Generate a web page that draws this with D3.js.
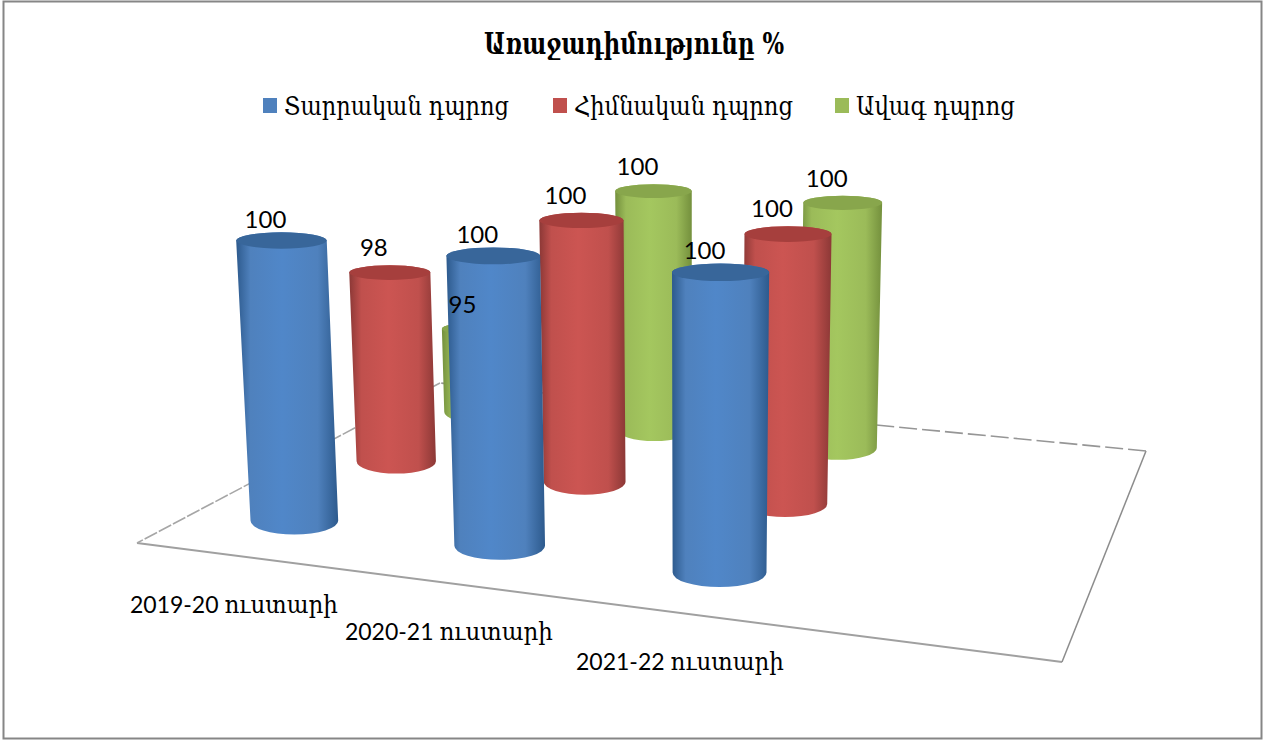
<!DOCTYPE html>
<html><head><meta charset="utf-8">
<script src="https://cdn.jsdelivr.net/npm/d3@7"></script>
<style>html,body{margin:0;padding:0;background:#fff}svg{display:block}</style>
</head><body><svg id="c" width="1264" height="740"></svg>
<script>
const chartTitle = "Առաջադիմությունը %";
const categories = ["2019-20 ուստարի", "2020-21 ուստարի", "2021-22 ուստարի", ""];
const seriesNames = ["Տարրական դպրոց", "Հիմնական դպրոց", "Ավագ դպրոց"];
const tarrakan = [100, 100, 100];
const himnakan = [98, 100, 100];
const avag = [95, 100, 100];
const seriesValues = [tarrakan, himnakan, avag];
const seriesColors = ["#4f81bd", "#c0504d", "#9bbb59"];
const edgeColors = ["#2d5a8d", "#8c3836", "#74903d"];
const midColors = ["#5087c9", "#cc5552", "#a4c75f"];
const capColors = ["#38669a", "#a63f3d", "#88a64c"];

const W = 1264, H = 740;
const svg = d3.select("#c");
const serif = "'DejaVu Serif', serif";
const mix = "Lato, 'DejaVu Serif', sans-serif";

// floor plane projective mapping (unit square -> picture)
const A = [137, 543], B = [1062, 662], C = [1146, 451], D = [440, 383];
function makeHomography(A, B, C, D) {
  const dx1 = B[0] - C[0], dy1 = B[1] - C[1], dx2 = D[0] - C[0], dy2 = D[1] - C[1];
  const sx = A[0] - B[0] + C[0] - D[0], sy = A[1] - B[1] + C[1] - D[1];
  const det = dx1 * dy2 - dx2 * dy1;
  const g = (sx * dy2 - dx2 * sy) / det, h = (dx1 * sy - sx * dy1) / det;
  const a = B[0] - A[0] + g * B[0], b = D[0] - A[0] + h * D[0];
  const d = B[1] - A[1] + g * B[1], e = D[1] - A[1] + h * D[1];
  return (u, v) => {
    const w = g * u + h * v + 1;
    return {x: (a * u + b * v + A[0]) / w, y: (d * u + e * v + A[1]) / w, w};
  };
}
const floor = makeHomography(A, B, C, D);
const uScale = d3.scaleBand().domain(categories).range([-0.005, 1.0]);
const vScale = d3.scaleBand().domain(seriesNames).range([0, 1]);
const heightScale = d3.scaleLinear().domain([92.2, 100]).range([0, 291]);
const RADIUS = 45.5, VERT_CONV = 8600, VERT_CX = 690;

// gradients
const defs = svg.append("defs");
seriesNames.forEach((s, i) => {
  const g = defs.append("linearGradient").attr("id", "side" + i)
    .attr("x1", 0).attr("x2", 1).attr("y1", 0).attr("y2", 0);
  [[0, edgeColors[i]], [.14, seriesColors[i]], [.45, midColors[i]], [.8, seriesColors[i]], [1, edgeColors[i]]]
    .forEach(([o, c]) => g.append("stop").attr("offset", o).attr("stop-color", c));
});

// frame
svg.append("rect").attr("x", 3.5).attr("y", 1.5).attr("width", W - 6).attr("height", H - 3)
  .attr("fill", "#fff").attr("stroke", "#868686").attr("stroke-width", 2);

// floor
const P = (u, v) => { const p = floor(u, v); return [p.x, p.y]; };
const floorLine = d3.line();
[[[0, 0], [1, 0], "none", "#a0a0a0", 2], [[1, 0], [1, 1], "none", "#8c8c8c", 1.5],
 [[1, 1], [0, 1], "18 5", "#969696", 1.6], [[0, 1], [0, 0], "14 2", "#a6a6a6", 1.6]]
  .forEach(([a, b, dash, col, sw]) => {
    svg.append("path").attr("d", floorLine([P(...a), P(...b)])).attr("fill", "none")
      .attr("stroke", col).attr("stroke-width", sw).attr("stroke-dasharray", dash);
  });

// cylinders
const marks = [];
seriesNames.forEach((s, si) => seriesValues[si].forEach((val, ci) => {
  const u = uScale(categories[ci]) + uScale.bandwidth() / 2;
  const v = vScale(s) + vScale.bandwidth() / 2;
  const b = floor(u, v);
  const rx = RADIUS / b.w;
  const h = heightScale(val) / b.w;
  const k = h / VERT_CONV;
  const top = {x: b.x + (b.x - VERT_CX) * k, y: b.y - h, rx: rx * (1 + k)};
  marks.push({si, ci, val, b, rx, ry: rx * .31, top, topRy: top.rx * .18});
}));
marks.sort((m, n) => d3.descending(m.si, n.si) || d3.ascending(m.ci, n.ci));

const bars = svg.append("g").selectAll("g").data(marks).join("g");
bars.append("path")
  .attr("fill", d => `url(#side${d.si})`)
  .attr("d", d => `M${d.top.x - d.top.rx},${d.top.y}L${d.b.x - d.rx},${d.b.y}`
    + `A${d.rx},${d.ry} 0 0 0 ${d.b.x + d.rx},${d.b.y}`
    + `L${d.top.x + d.top.rx},${d.top.y}`
    + `A${d.top.rx},${d.topRy} 0 0 0 ${d.top.x - d.top.rx},${d.top.y}Z`);
bars.append("ellipse")
  .attr("cx", d => d.top.x).attr("cy", d => d.top.y)
  .attr("rx", d => d.top.rx).attr("ry", d => d.topRy)
  .attr("fill", d => capColors[d.si]);

// value labels
svg.append("g").selectAll("text").data(marks).join("text")
  .attr("x", d => d.top.x - 16).attr("y", d => d.top.y - d.topRy - (d.si === 0 ? 4.5 : 9))
  .attr("text-anchor", "middle").attr("font-family", mix).attr("font-size", 24).attr("fill", "#000")
  .text(d => d.val);

// category labels
svg.append("g").selectAll("text").data(categories.filter(c => c)).join("text")
  .attr("x", c => floor(uScale(c) + uScale.bandwidth() / 2, 0).x - 1)
  .attr("y", c => floor(uScale(c) + uScale.bandwidth() / 2, 0).y + 57)
  .attr("text-anchor", "middle").attr("font-family", mix).attr("font-size", 24).attr("fill", "#000")
  .attr("textLength", 208).attr("lengthAdjust", "spacingAndGlyphs")
  .text(c => c);

// title
svg.append("text").attr("x", 634).attr("y", 54).attr("text-anchor", "middle")
  .attr("font-family", serif).attr("font-weight", "bold").attr("font-size", 29)
  .attr("textLength", 300).attr("lengthAdjust", "spacingAndGlyphs").text(chartTitle);

// legend
const legendX = d3.scaleOrdinal().domain(seriesNames).range([263, 553, 835]);
const legendW = d3.scaleOrdinal().domain(seriesNames).range([225, 219, 159]);
const leg = svg.append("g").selectAll("g").data(seriesNames).join("g")
  .attr("transform", s => `translate(${legendX(s)},0)`);
leg.append("rect").attr("y", 98).attr("width", 14).attr("height", 15).attr("fill", (s, i) => seriesColors[i]);
leg.append("text").attr("x", 21).attr("y", 115).attr("font-family", serif).attr("font-size", 26)
  .attr("textLength", s => legendW(s)).attr("lengthAdjust", "spacingAndGlyphs").text(s => s);
</script></body></html>
